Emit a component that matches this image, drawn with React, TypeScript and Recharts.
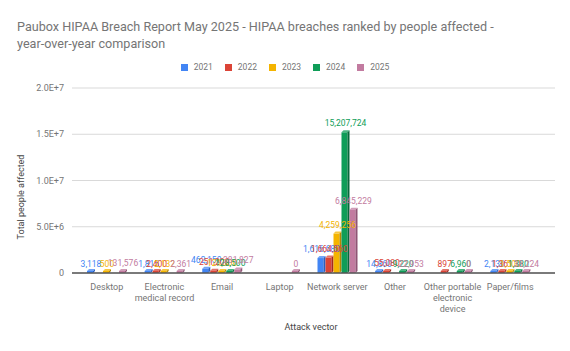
import React from "react";
import { BarChart, Bar, XAxis, YAxis, CartesianGrid, LabelList } from "recharts";

const categories = [
  "Desktop",
  "Electronic medical record",
  "Email",
  "Laptop",
  "Network server",
  "Other",
  "Other portable electronic device",
  "Paper/films",
];
const y2021 = [3118, 1815, 462150, null, 1616680, 14860, null, 2130];
const y2022 = [null, 2400, 251200, null, 1664560, 55080, 897, 1361];
const y2023 = [500, 2132, 121300, null, 4259256, null, null, 1500];
const y2024 = [null, null, 128500, null, 15207724, 9220, 6960, 1380];
const y2025 = [131576, 2361, 381827, 0, 6845229, 22953, 0, 38224];
const yTicks = [0, 5e6, 1e7, 1.5e7, 2e7];

const series = [
  { key: "2021", values: y2021, color: "#4285f4", side: "#2a5fc0" },
  { key: "2022", values: y2022, color: "#db4437", side: "#a3291f" },
  { key: "2023", values: y2023, color: "#f4b400", side: "#b58500" },
  { key: "2024", values: y2024, color: "#0f9d58", side: "#08693a" },
  { key: "2025", values: y2025, color: "#c27ba0", side: "#8f5575" },
];

const data = categories.map((c, i) => {
  const row: any = { name: c };
  series.forEach((s) => (row[s.key] = s.values[i]));
  return row;
});

const FONT = "Roboto, sans-serif";
const fmtTick = (v: number) => (v === 0 ? "0" : v.toExponential(1).toUpperCase());
const fmtLabel = (v: any) => (v == null ? "" : Number(v).toLocaleString("en-US"));

// word wrap with canvas measuring, recharts Text wraps too early here
let ctx: CanvasRenderingContext2D | null = null;
const wrap = (s: string, max: number) => {
  if (!ctx) ctx = document.createElement("canvas").getContext("2d");
  ctx!.font = `9px ${FONT}`;
  const lines: string[] = [];
  let cur = "";
  s.split(" ").forEach((w) => {
    const t = cur ? cur + " " + w : w;
    if (cur && ctx!.measureText(t).width > max) {
      lines.push(cur);
      cur = w;
    } else cur = t;
  });
  if (cur) lines.push(cur);
  return lines;
};

// fake 3D bar like the google sheets one: front, dark side, light top
const makeShape = (key: string, color: string, side: string) => (props: any) => {
  const { x, y, width, height, payload } = props;
  if (payload == null || payload[key] == null) return null;
  const d = 2;
  const h = Math.max(height, 2);
  const top = y + height - h;
  const w = width - d;
  return (
    <g>
      <rect x={x} y={top} width={w} height={h} fill={color} />
      <polygon
        points={`${x + w},${top} ${x + w + d},${top - d} ${x + w + d},${top + h - d} ${x + w},${top + h}`}
        fill={side}
      />
      <polygon
        points={`${x},${top} ${x + d},${top - d} ${x + w + d},${top - d} ${x + w},${top}`}
        fill={color}
        opacity={0.75}
      />
    </g>
  );
};

const XTick = (props: any) => {
  const { x, y, payload } = props;
  const lines = wrap(String(payload.value), 66);
  return (
    <text x={x} y={y + 9} textAnchor="middle" fontSize={9} fontFamily={FONT} fill="#757575">
      {lines.map((l, i) => (
        <tspan key={i} x={x} dy={i === 0 ? 0 : 11}>
          {l}
        </tspan>
      ))}
    </text>
  );
};

export default function App() {
  return (
    <div style={{ position: "absolute", left: 0, top: 0, width: 570, height: 351, background: "#fff", fontFamily: FONT }}>
      <div style={{ position: "absolute", left: 17, top: 18, fontSize: 12.6, lineHeight: "17px", color: "#757575" }}>
        <div>Paubox HIPAA Breach Report May 2025 - HIPAA breaches ranked by people affected -</div>
        <div>year-over-year comparison</div>
      </div>

      {/* Legend */}
      <div style={{ position: "absolute", top: 62, left: 0, width: 570, display: "flex", justifyContent: "center", gap: 12 }}>
        {series.map((s) => (
          <span key={s.key} style={{ display: "flex", alignItems: "center", gap: 6, fontSize: 8.5, color: "#757575" }}>
            <span style={{ display: "inline-block", width: 7, height: 7, background: s.color }} />
            {s.key}
          </span>
        ))}
      </div>

      <BarChart
        width={570}
        height={351}
        data={data}
        margin={{ top: 88, right: 15, bottom: 38, left: 10 }}
        barCategoryGap={9}
        barGap={0}
        style={{ fontFamily: FONT }}
      >
        <CartesianGrid vertical={false} stroke="#d9d9d9" />
        <XAxis
          dataKey="name"
          interval={0}
          height={40}
          tick={<XTick />}
          tickLine={false}
          axisLine={{ stroke: "#555", strokeWidth: 1.5 }}
          padding={{ left: 6, right: 16 }}
        />
        <YAxis
          width={62}
          domain={[0, 2e7]}
          ticks={yTicks}
          tickFormatter={fmtTick}
          tick={{ fontSize: 9, fill: "#757575" }}
          tickLine={false}
          axisLine={false}
        />
        {series.map((s) => (
          <Bar key={s.key} dataKey={s.key} fill={s.color} isAnimationActive={false} shape={makeShape(s.key, s.color, s.side)}>
            <LabelList dataKey={s.key} position="top" offset={6} formatter={fmtLabel} fill={s.color} fontSize={8.5} />
          </Bar>
        ))}
        <text x={22} y={197} transform="rotate(-90 22 197)" textAnchor="middle" dominantBaseline="middle" fontSize={9} fill="#444">
          Total people affected
        </text>
        <text x={311} y={328} textAnchor="middle" dominantBaseline="middle" fontSize={9} fill="#444">
          Attack vector
        </text>
      </BarChart>
    </div>
  );
}
